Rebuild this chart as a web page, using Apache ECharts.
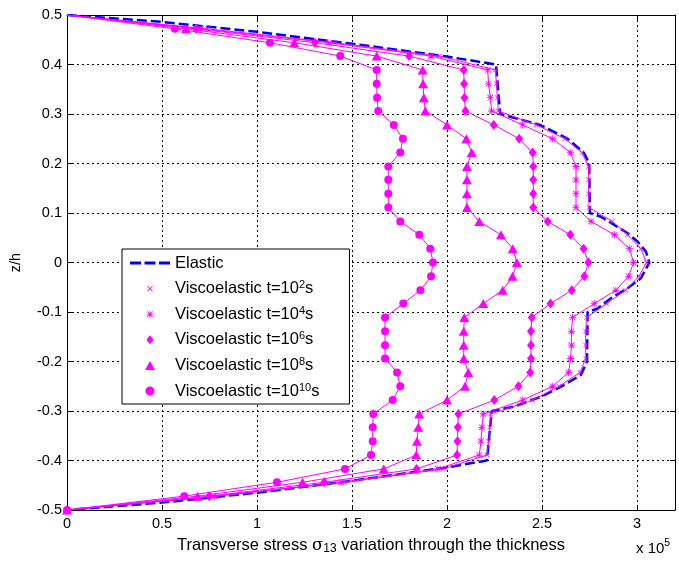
<!DOCTYPE html>
<html>
<head>
<meta charset="utf-8">
<script src="https://cdn.jsdelivr.net/npm/echarts@6/dist/echarts.min.js"></script>
<style>html,body{margin:0;padding:0;background:#fff;}#chart{width:679px;height:561px;}</style>
</head>
<body>
<div id="chart"></div>
<script>
// z/h levels at which the viscoelastic curves are sampled (top to bottom)
const zLevels = [0.5, 0.472, 0.444, 0.417, 0.389, 0.361, 0.333, 0.306, 0.278, 0.25, 0.222, 0.194, 0.167, 0.139, 0.111, 0.083, 0.056, 0.028, 0,
  -0.028, -0.056, -0.083, -0.111, -0.139, -0.167, -0.194, -0.222, -0.25, -0.278, -0.306, -0.333, -0.361, -0.389, -0.417, -0.444, -0.472, -0.5];

// transverse stress (x 10^5) for each viscoelastic time
const visco1e2 = [0, 0.74, 1.41, 1.96, 2.255, 2.26, 2.265, 2.27, 2.47, 2.62, 2.71, 2.745, 2.745, 2.745, 2.748, 2.87, 2.95, 3.02, 3.05,
  3.01, 2.94, 2.84, 2.735, 2.73, 2.73, 2.73, 2.70, 2.59, 2.45, 2.23, 2.225, 2.22, 2.21, 1.98, 1.46, 0.79, 0];
const visco1e4 = [0, 0.705, 1.379, 1.916, 2.214, 2.219, 2.228, 2.235, 2.398, 2.556, 2.649, 2.679, 2.679, 2.679, 2.679, 2.758, 2.881, 2.96, 2.982,
  2.956, 2.889, 2.775, 2.661, 2.655, 2.655, 2.65, 2.64, 2.556, 2.398, 2.191, 2.184, 2.179, 2.17, 1.951, 1.442, 0.775, 0];
const visco1e6 = [0, 0.679, 1.305, 1.80, 2.088, 2.09, 2.092, 2.097, 2.246, 2.38, 2.451, 2.454, 2.454, 2.454, 2.454, 2.53, 2.649, 2.719, 2.744,
  2.723, 2.657, 2.545, 2.446, 2.442, 2.442, 2.442, 2.438, 2.376, 2.249, 2.06, 2.057, 2.055, 2.053, 1.84, 1.354, 0.749, 0];
const visco1e8 = [0, 0.626, 1.196, 1.63, 1.872, 1.874, 1.878, 1.886, 2.0, 2.102, 2.13, 2.105, 2.105, 2.105, 2.105, 2.17, 2.284, 2.346, 2.368,
  2.345, 2.293, 2.191, 2.091, 2.088, 2.088, 2.088, 2.112, 2.095, 2.0, 1.854, 1.849, 1.842, 1.838, 1.667, 1.24, 0.688, 0];
const visco1e10 = [0, 0.568, 1.068, 1.438, 1.63, 1.63, 1.632, 1.638, 1.72, 1.768, 1.754, 1.691, 1.691, 1.691, 1.691, 1.754, 1.854, 1.912, 1.926,
  1.916, 1.86, 1.77, 1.674, 1.674, 1.674, 1.674, 1.737, 1.754, 1.714, 1.612, 1.609, 1.609, 1.6, 1.463, 1.105, 0.617, 0];

// elastic solution (stress x 10^5, z/h)
const elasticX = [0, 0.5, 1.0, 1.5, 2.0, 2.258, 2.28, 2.49, 2.635, 2.72, 2.748, 2.752, 2.81, 2.88, 2.951, 3.004, 3.047, 3.065,
  3.02, 2.95, 2.863, 2.793, 2.74, 2.737, 2.705, 2.6, 2.495, 2.354, 2.235, 2.21, 2.0, 1.5, 1.0, 0.5, 0];
const elasticZ = [0.5, 0.486, 0.466, 0.442, 0.416, 0.4, 0.3, 0.278, 0.25, 0.222, 0.2, 0.1, 0.0925, 0.076, 0.059, 0.042, 0.022, 0,
  -0.032, -0.052, -0.072, -0.093, -0.1, -0.2, -0.227, -0.251, -0.271, -0.291, -0.3, -0.4, -0.414, -0.441, -0.465, -0.485, -0.5];

const seriesNames = ['Elastic', 'Viscoelastic t=10^2s', 'Viscoelastic t=10^4s', 'Viscoelastic t=10^6s', 'Viscoelastic t=10^8s', 'Viscoelastic t=10^10s'];
const xTicks = {min: 0, max: 3.2, step: 0.5};
const yTicks = {min: -0.5, max: 0.5, step: 0.1};

const FONT = 'Liberation Sans, Arial, Helvetica, sans-serif';
const MAG = '#ff00ff';
const X_SHAPE = 'M0,1L1,0L5,4L9,0L10,1L6,5L10,9L9,10L5,6L1,10L0,9L4,5Z';
const STAR_SHAPE = 'M4.4,0H5.6V10H4.4Z M0,4.4H10V5.6H0Z M1.4,0.6L5,4.2L8.6,0.6L9.4,1.4L5.8,5L9.4,8.6L8.6,9.4L5,5.8L1.4,9.4L0.6,8.6L4.2,5L0.6,1.4Z';
const ICON_X = 'path://' + X_SHAPE;
const ICON_STAR = 'path://' + STAR_SHAPE;
const ICON_DIAMOND = 'path://M4,0L8,5L4,10L0,5Z';
const ICON_TRI = 'path://M5,0L10,9L0,9Z';
const ICON_CIRCLE = 'circle';
const ICON_DASH = 'path://M0,0H11V3H0Z M14.5,0H25.5V3H14.5Z M29,0H40V3H29Z';

function viscoData(vals) {
  return vals.map((v, i) => i === 0 ? {value: [v, zLevels[i]], symbol: 'none'} : [v, zLevels[i]]);
}

const chart = echarts.init(document.getElementById('chart'), null, {renderer: 'canvas'});

const viscoDefs = [
  {vals: visco1e2, symbol: ICON_X, size: 5},
  {vals: visco1e4, symbol: ICON_STAR, size: 7},
  {vals: visco1e6, symbol: ICON_DIAMOND, size: [8, 10]},
  {vals: visco1e8, symbol: ICON_TRI, size: [10, 9]},
  {vals: visco1e10, symbol: ICON_CIRCLE, size: 8}
];

const series = [];
viscoDefs.forEach((d, i) => {
  series.push({
    name: seriesNames[i + 1],
    type: 'line',
    data: viscoData(d.vals),
    symbol: d.symbol,
    symbolSize: d.size,
    showAllSymbol: true,
    color: MAG,
    itemStyle: {color: MAG, borderWidth: 0},
    lineStyle: {color: MAG, width: 1},
    emphasis: {disabled: true},
    z: 3
  });
});
series.unshift({
  name: seriesNames[0],
  type: 'line',
  data: elasticX.map((x, i) => [x, elasticZ[i]]),
  symbol: 'none',
  color: '#0000ff',
  itemStyle: {color: '#0000ff'},
  lineStyle: {color: '#0000ff', width: 2.5, type: [10, 4]},
  emphasis: {disabled: true},
  z: 2
});

// legend icons: padded bounding boxes (moveTo) keep the small markers small
const legendIcons = [
  ICON_DASH,
  'path://M-3,-3M13,13M' + X_SHAPE.slice(1),
  'path://M-1.5,-1.5M11.5,11.5M' + STAR_SHAPE.slice(1),
  ICON_DIAMOND,
  ICON_TRI,
  'path://M5,0A5,5,0,1,1,4.99,0Z'
];

const axisCommon = {
  axisLine: {show: true, onZero: false, lineStyle: {color: '#000', width: 1}},
  axisTick: {show: true, inside: true, length: 5, lineStyle: {color: '#000'}},
};

chart.setOption({
  animation: false,
  backgroundColor: '#fff',
  textStyle: {fontFamily: FONT},
  grid: {left: 66, right: 4, top: 15, bottom: 51, containLabel: false},
  xAxis: [
    Object.assign({
      type: 'value', min: xTicks.min, max: xTicks.max, interval: xTicks.step, position: 'bottom',
      axisLabel: {show: true, color: '#000', fontSize: 14.5, fontFamily: FONT, margin: 6, showMaxLabel: false},
      splitLine: {show: true, lineStyle: {color: '#000', width: 1, type: [2, 3]}},
      name: 'Transverse stress {g|σ}{sub|13} variation through the thickness',
      nameLocation: 'middle', nameGap: 25,
      nameTextStyle: {color: '#000', fontSize: 16.5, fontFamily: FONT, lineHeight: 19,
        rich: {g: {fontSize: 16.5, fontFamily: 'DejaVu Serif, serif', lineHeight: 19}, sub: {fontSize: 12, lineHeight: 12, verticalAlign: 'bottom', fontFamily: FONT}}}
    }, axisCommon),
    Object.assign({
      type: 'value', min: xTicks.min, max: xTicks.max, interval: xTicks.step, position: 'top',
      axisLabel: {show: false}, splitLine: {show: false}
    }, axisCommon)
  ],
  yAxis: [
    Object.assign({
      type: 'value', min: yTicks.min, max: yTicks.max, interval: yTicks.step, position: 'left',
      axisLabel: {show: true, color: '#000', fontSize: 14.5, fontFamily: FONT, margin: 5},
      splitLine: {show: true, lineStyle: {color: '#000', width: 1, type: [2, 3]}},
      name: 'z/h', nameLocation: 'middle', nameGap: 44, nameRotate: 90,
      nameTextStyle: {color: '#000', fontSize: 14.5, fontFamily: FONT}
    }, axisCommon),
    Object.assign({
      type: 'value', min: yTicks.min, max: yTicks.max, interval: yTicks.step, position: 'right',
      axisLabel: {show: false}, splitLine: {show: false}
    }, axisCommon)
  ],
  legend: {
    show: true,
    orient: 'vertical',
    left: 122, top: 249,
    backgroundColor: '#fff',
    borderColor: '#000', borderWidth: 1,
    padding: [5, 30, 4, 8],
    itemWidth: 40, itemHeight: 9, itemGap: 7.6,
    selectedMode: false,
    symbolKeepAspect: true,
    data: seriesNames.map((n, i) => ({name: n, icon: legendIcons[i]})),
    formatter: name => name.replace(/\^(\d+)/, '{sup|$1}'),
    textStyle: {color: '#000', fontSize: 16.5, fontFamily: FONT, lineHeight: 18,
      rich: {sup: {fontSize: 11, lineHeight: 10, verticalAlign: 'top', fontFamily: FONT, color: '#000'}}}
  },
  graphic: [{
    type: 'text', left: 636, top: 538, silent: true,
    style: {
      text: '{m|x 10}{s|5}', fill: '#000',
      rich: {m: {fontSize: 15, lineHeight: 21, fontFamily: FONT, fill: '#000'}, s: {fontSize: 10.5, lineHeight: 10, verticalAlign: 'top', fontFamily: FONT, fill: '#000'}}
    }
  }],
  series: series
});
</script>
</body>
</html>
